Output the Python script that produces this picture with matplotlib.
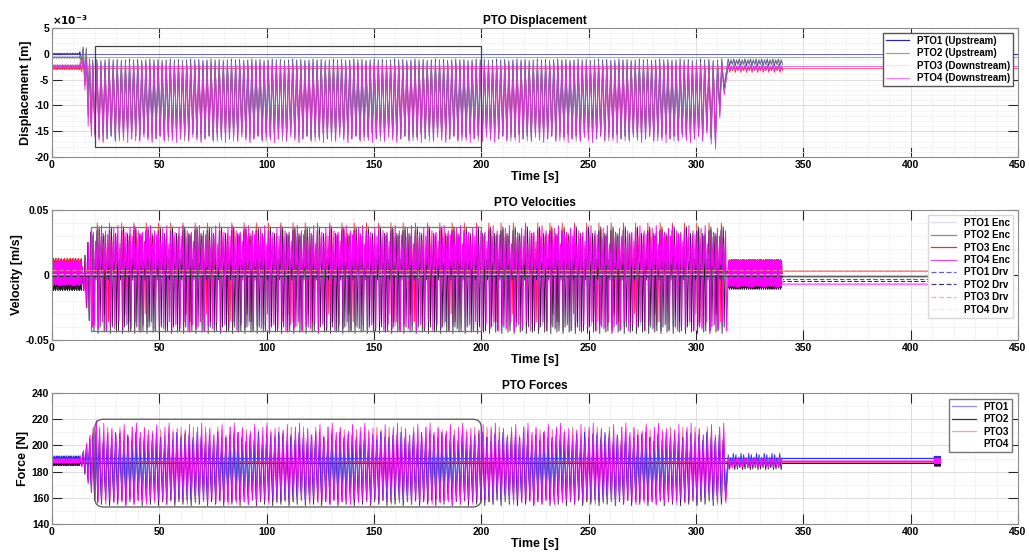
import numpy as np
import matplotlib.pyplot as plt
from matplotlib.patches import Rectangle, FancyBboxPatch

plt.rcParams['font.family'] = ['Liberation Sans', 'DejaVu Sans']
plt.rcParams['font.weight'] = 'bold'
plt.rcParams['axes.titleweight'] = 'bold'
plt.rcParams['axes.labelweight'] = 'bold'
plt.rcParams['axes.unicode_minus'] = False

# ---------------- data ----------------
pto = ['PTO1', 'PTO2', 'PTO3', 'PTO4']

# displacement, in units of 1e-3 m
disp_rest = [0.0, -0.7, -2.8, -2.3]
disp_quiet_hi = [[0.15, 0.05], [-0.5, -0.6], [-2.6, -2.5], [-2.1, -2.2]]
disp_quiet_lo = [[-0.1, -0.2], [-0.8, -0.9], [-3.0, -3.1], [-2.5, -2.6]]
disp_ramp_hi = [[0.4, 1.3, 1.0, -1.0], [-0.3, 0.8, 1.2, -1.2], [-2.0, -1.0, -1.5, -2.4], [-1.5, -0.5, -1.2, -2.0]]
disp_ramp_lo = [[-1.5, -4.0, -8.3, -13.5], [-2.0, -5.0, -10.0, -14.0], [-3.5, -6.0, -12.0, -15.0], [-3.0, -7.0, -14.0, -16.0]]
disp_main_hi = [[-1.2, -1.1, -1.3, -1.2, -1.0], [-1.6, -1.4, -1.7], [-2.6, -2.4, -2.5], [-2.2, -2.0, -2.4, -2.1]]
disp_main_lo = [[-15.6, -16.2, -15.4, -16.5, -15.9, -16.7], [-15.5, -16.4, -16.9, -16.0],
                [-15.2, -16.0, -15.7], [-16.2, -16.8, -17.2, -16.5, -15.9, -17.0]]
disp_end_lo = [[-15.0, -16.5, -17.0, -11.0, -7.0], [-14.5, -16.0, -17.5, -12.0, -6.0],
               [-14.0, -15.5, -16.5, -10.0, -6.5], [-15.5, -17.5, -18.5, -12.5, -8.0]]
disp_tail_hi = [[-1.0, -1.3], [-1.3, -1.1], [-2.3, -2.6], [-2.1, -2.3]]
disp_tail_lo = [[-2.3, -2.0], [-1.9, -2.1], [-3.6, -3.3], [-3.3, -3.0]]

# velocity, m/s
vel_quiet_hi = [[0.006, 0.004, 0.008, 0.005], [0.005, 0.007, 0.003, 0.006, 0.002],
                [0.012, 0.009, 0.013, 0.007, 0.010, 0.011], [0.010, 0.007, 0.011, 0.006, 0.009]]
vel_quiet_lo = [[-0.005, -0.007, -0.003], [-0.011, -0.008, -0.012, -0.006, -0.009],
                [-0.004, -0.006, -0.002, -0.005], [-0.007, -0.004, -0.008, -0.006, -0.003]]
vel_ramp_hi = [0.005, 0.015, 0.025, 0.033]
vel_ramp_lo = [-0.012, -0.025, -0.035, -0.040]
vel_main_hi = [[0.031, 0.018, 0.035, 0.022, 0.029, 0.015], [0.030, 0.012, 0.034, 0.037, 0.010, 0.032],
               [0.032, 0.020, 0.040, 0.035, 0.016, 0.030], [0.033, 0.026, 0.036, 0.030, 0.038, 0.024, 0.034, 0.031]]
vel_main_lo = [[-0.039, 0.004, -0.042, 0.002], [-0.043, -0.004, -0.045, -0.040, 0.001, -0.044],
               [-0.030, 0.006, -0.036, 0.004, 0.003], [-0.038, 0.005, -0.041, 0.008, -0.036, 0.003, -0.043, 0.006]]
vel_tail_hi = [[0.006, 0.008, 0.004], [0.004, 0.007, 0.005, 0.002], [0.011, 0.009, 0.012, 0.007],
               [0.010, 0.006, 0.012, 0.008, 0.005, 0.011]]
vel_tail_lo = [[-0.006, -0.004, -0.007], [-0.010, -0.006, -0.011, -0.008], [-0.005, -0.007, -0.003],
               [-0.006, -0.009, -0.004, -0.008, -0.003]]
vel_enc_hold = [-0.002, -0.001, 0.003, -0.007]
vel_drv_test = [0.0015, -0.001, 0.004, 0.0005]
vel_drv_hold = [-0.003, -0.005, 0.003, -0.006]
vel_spike = [0.008, -0.010]

# force, N
force_rest = [190.2, 186.3, 187.5, 188.2]
force_quiet_hi = [[191.0, 190.5, 192.0, 190.8], [187.5, 188.0, 187.0], [189.5, 189.0], [189.5, 189.0, 189.8]]
force_quiet_lo = [[188.5, 189.0, 188.2], [185.0, 185.5, 184.5, 185.8], [187.0, 186.5], [186.8, 187.2, 186.5]]
force_ramp_hi = [[192, 195, 199, 203, 206, 207], [191, 195, 200, 205, 209, 210], [192, 196, 201, 207, 213, 216], [192, 196, 202, 208, 214, 219]]
force_ramp_lo = [[185, 180, 175, 169, 164, 161], [184, 178, 171, 164, 158, 156], [184, 179, 173, 166, 161, 158], [184, 178, 172, 165, 160, 157]]
force_main_hi = [[206, 203, 208, 204, 210], [203, 209, 200, 206], [212, 208, 214], [214, 217, 210, 213, 208, 211, 216, 206]]
force_main_lo = [[161, 164, 159, 162], [155, 158, 154, 157], [158, 160, 157], [157, 155, 159, 156, 158]]
force_tail_hi = [[193, 191, 194], [189, 190], [190, 189], [191, 190]]
force_tail_lo = [[186, 185], [182, 183, 181.5], [184, 185], [184, 183]]

# phase boundaries [s]
t_quiet, t_ramp, t_main, t_end, t_tail, t_stop = 13.0, 19.0, 304.0, 314.0, 340.0, 411.0


def zigzag(t0, t1, period, highs, lows, shift=0.0):
    t = np.arange(t0 + shift, t1, period)
    hi = np.resize(np.asarray(highs, float), t.size)
    lo = np.resize(np.asarray(lows, float), t.size)
    return np.column_stack([t, t + 0.5 * period]).ravel(), np.column_stack([hi, lo]).ravel()


def join(*parts):
    return np.concatenate([p[0] for p in parts]), np.concatenate([p[1] for p in parts])


fig = plt.figure(figsize=(10.29, 5.59), dpi=100)
ax1 = fig.add_axes([0.0505, 0.7191, 0.9388, 0.2308])
ax2 = fig.add_axes([0.0505, 0.3918, 0.9388, 0.2326])
ax3 = fig.add_axes([0.0505, 0.0626, 0.9388, 0.2343])

# ---------------- displacement ----------------
disp_colors = ['#3030b0', '#808080', '#e83838', '#dd30dd']
for i in [2, 0, 1, 3]:
    sh = 0.04 * i
    x, y = join(zigzag(0, t_quiet, 0.6, disp_quiet_hi[i], disp_quiet_lo[i], sh),
                zigzag(t_quiet, t_ramp, 1.5, disp_ramp_hi[i], disp_ramp_lo[i], sh),
                zigzag(t_ramp, t_main, 1.9, disp_main_hi[i], disp_main_lo[i], sh),
                zigzag(t_main, t_end, 2.0, disp_main_hi[i], disp_end_lo[i], sh),
                zigzag(t_end + 1, t_tail, 1.3, disp_tail_hi[i], disp_tail_lo[i], sh))
    ax1.plot(x, y, color=disp_colors[i], lw=0.6)
    ax1.plot([0, 450], [disp_rest[i]] * 2, color=disp_colors[i], lw=0.6, alpha=0.8)
leg_h = [plt.Line2D([], [], color=c, lw=0.9) for c in ['#2b2b9e', '#a0a0a0', '#f6e4e4', '#f080f0']]
ax1.legend(leg_h, [p + s for p, s in zip(pto, [' (Upstream)', ' (Upstream)', ' (Downstream)', ' (Downstream)'])],
           loc='upper right', fontsize=7, handlelength=2.4, labelspacing=0.25, borderpad=0.3,
           fancybox=False, edgecolor='#555555', framealpha=1, borderaxespad=0.5)
ax1.add_patch(Rectangle((20, -18), 180, 19.5, fill=False, ec='#444444', lw=0.9, zorder=5))
ax1.set_xlim(0, 450)
ax1.set_ylim(-20, 5)
ax1.set_yticks(np.arange(-20, 6, 5))
ax1.set_yticks(np.arange(-20, 6, 1), minor=True)
ax1.set_ylabel('Displacement [m]', fontsize=9, labelpad=2)
ax1.set_title('PTO Displacement', fontsize=8.5, pad=3)
ax1.text(0.0, 1.01, r'$\times 10^{-3}$', transform=ax1.transAxes, fontsize=7.5, fontweight='normal',
         ha='left', va='bottom')

# ---------------- velocities ----------------
enc_colors = ['#a8a8d8', '#1e1e1e', '#ff2020', '#ff00ff']
drv_colors = ['#5050c0', '#303048', '#f08080', '#f0b0f0']
for i in [2, 0, 1, 3]:
    sh = 0.1 * i
    parts = [zigzag(0, t_quiet + 1, 0.22, vel_quiet_hi[i], vel_quiet_lo[i], 0.05 * i),
             zigzag(t_quiet + 1, t_ramp, 1.3, vel_ramp_hi, vel_ramp_lo, sh),
             zigzag(t_ramp, t_end, 0.95, vel_main_hi[i], vel_main_lo[i], sh),
             zigzag(t_end + 1, t_tail, 0.22, vel_tail_hi[i], vel_tail_lo[i], 0.05 * i),
             (np.array([t_tail, t_stop]), np.array([vel_enc_hold[i]] * 2))]
    if i == 3:
        parts.append((np.array([t_stop, t_stop + 0.2, t_stop + 0.4]), np.array(vel_spike + [vel_enc_hold[i]])))
    x, y = join(*parts)
    ax2.plot(x, y, color=enc_colors[i], lw=0.6 if i != 3 else 0.7)
for i in range(4):
    ax2.plot([0, t_tail, t_tail, t_stop], [vel_drv_test[i]] * 2 + [vel_drv_hold[i]] * 2,
             color=drv_colors[i], lw=0.8, ls=(0, (4, 2)), zorder=4)
leg_h = [plt.Line2D([], [], color=c, lw=0.9) for c in ['#dcdce6', '#8a8a8a', '#e83030', '#e050e0']]
leg_h += [plt.Line2D([], [], color=c, lw=0.9, ls=(0, (4, 2))) for c in ['#6060c0', '#404060', '#f4b0b0', '#f4e4f4']]
ax2.legend(leg_h, [p + ' Enc' for p in pto] + [p + ' Drv' for p in pto],
           loc='upper right', fontsize=7, handlelength=2.6, labelspacing=0.25, borderpad=0.3,
           fancybox=False, edgecolor='#d8d8d8', framealpha=1, borderaxespad=0.5)
ax2.add_patch(Rectangle((18, -0.043), 182, 0.08, fill=False, ec='#777777', lw=0.9, zorder=5))
ax2.set_xlim(0, 450)
ax2.set_ylim(-0.05, 0.05)
ax2.set_yticks([-0.05, 0, 0.05])
ax2.set_yticklabels(['-0.05', '0', '0.05'])
ax2.set_yticks(np.arange(-0.05, 0.051, 0.01), minor=True)
ax2.set_ylabel('Velocity [m/s]', fontsize=9, labelpad=2)
ax2.set_title('PTO Velocities', fontsize=8.5, pad=3)

# ---------------- forces ----------------
force_colors = ['#2a2aff', '#1e1e1e', '#ff5a8a', '#ff10ff']
for i in [2, 1, 0, 3]:
    sh = 0.08 * i
    x, y = join(zigzag(0, t_quiet, 0.2, force_quiet_hi[i], force_quiet_lo[i], 0.05 * i),
                zigzag(t_quiet, 22, 1.5, force_ramp_hi[i], force_ramp_lo[i], sh),
                zigzag(22, t_end, 1.9, force_main_hi[i], force_main_lo[i], sh),
                zigzag(t_end + 1, t_tail, 1.2, force_tail_hi[i], force_tail_lo[i], sh),
                (np.array([t_tail, t_stop]), np.array([force_rest[i]] * 2)),
                zigzag(t_stop, t_stop + 3, 0.15, [force_rest[i] + 1.5], [force_rest[i] - 2.0]))
    ax3.plot(x, y, color=force_colors[i], lw=0.6)
    ax3.plot([0, t_stop], [force_rest[i]] * 2, color=force_colors[i], lw=0.7)
leg_h = [plt.Line2D([], [], color=c, lw=0.9) for c in ['#9090e0', '#333333', '#f4a0c0', '#ffffff']]
ax3.legend(leg_h, pto, loc='upper right', fontsize=7, handlelength=2.5, labelspacing=0.25,
           borderpad=0.3, fancybox=False, edgecolor='#777777', framealpha=1, borderaxespad=0.6)
mx = (100 / 131) / (450 / 966)
ax3.add_patch(FancyBboxPatch((20, 153), 180, 67, boxstyle='round,pad=0,rounding_size=4',
                             mutation_aspect=mx, fill=False, ec='#555555', lw=0.9, zorder=5))
ax3.set_xlim(0, 450)
ax3.set_ylim(140, 240)
ax3.set_yticks(np.arange(140, 241, 20))
ax3.set_yticks(np.arange(140, 241, 10), minor=True)
ax3.set_ylabel('Force [N]', fontsize=9, labelpad=2)
ax3.set_title('PTO Forces', fontsize=8.5, pad=3)

for ax in (ax1, ax2, ax3):
    ax.set_xticks(np.arange(0, 451, 50))
    ax.set_xticks(np.arange(0, 451, 10), minor=True)
    ax.set_xlabel('Time [s]', fontsize=9, labelpad=1)
    ax.grid(True, which='major', color='#d8d8d8', lw=0.6)
    ax.grid(True, which='minor', color='#f0f0f0', lw=0.5)
    ax.set_axisbelow(True)
    ax.tick_params(which='major', direction='in', length=7, width=0.8, color='#262626',
                   top=True, right=True, labelsize=7.5, pad=2)
    ax.tick_params(which='minor', length=0)
    for s in ax.spines.values():
        s.set_color('#8c8c8c')
        s.set_linewidth(0.8)

fig.savefig('out.png', dpi=100)
